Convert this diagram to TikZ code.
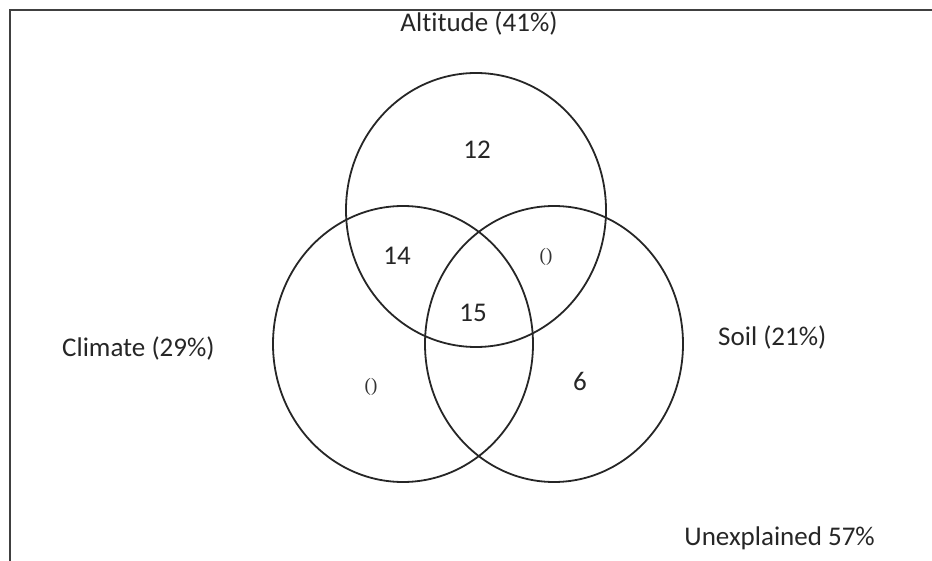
\documentclass[tikz,border=0pt]{standalone}
\usepackage{fontspec}
\setmainfont[Ligatures=NoCommon]{Carlito}
\newfontfamily\zerofont{Liberation Serif}
\begin{document}
\begin{tikzpicture}[x=1pt,y=-1pt,
  setline/.style={draw=black!85,line width=1.8pt},
  frameline/.style={draw=black!75,line width=2pt},
  label/.style={font=\fontsize{27}{30}\selectfont,text=black!85,inner sep=0pt},
  zero/.style={font=\zerofont\fontsize{19}{22}\selectfont,text=black!80,inner sep=0pt}]
  \useasboundingbox (0,0) rectangle (932,561);
  % frame: top and left edges
  \coordinate (fbl) at (10,561);
  \coordinate (ftl) at (10,10);
  \coordinate (ftr) at (932,10);
  \draw[frameline] (fbl) -- (ftl) -- (ftr);
  % the three sets
  \draw[setline] (476,210) ellipse [x radius=130pt, y radius=137pt];
  \draw[setline] (403,344) ellipse [x radius=130pt, y radius=138pt];
  \draw[setline] (554,344) ellipse [x radius=129pt, y radius=138pt];
  % set names
  \node[label,anchor=base] (alt) at (479,32) {Altitude (41\%)};
  \node[label,anchor=base west] (cli) at (62,356) {Climate (29\%)};
  \node[label,anchor=base west] (soil) at (718,345) {Soil (21\%)};
  \node[label,anchor=base east] (unex) at (875,545) {Unexplained 57\%};
  % region counts
  \node[label,anchor=base] (n12) at (477,159) {12};
  \node[label,anchor=base] (n14) at (397,265) {14};
  \node[label,anchor=base] (n15) at (473,322) {15};
  \node[label,anchor=base] (n6) at (580,390) {6};
  \node[zero] (z1) at (546,257) {()};
  \node[zero] (z2) at (371,387) {()};
\end{tikzpicture}
\end{document}
